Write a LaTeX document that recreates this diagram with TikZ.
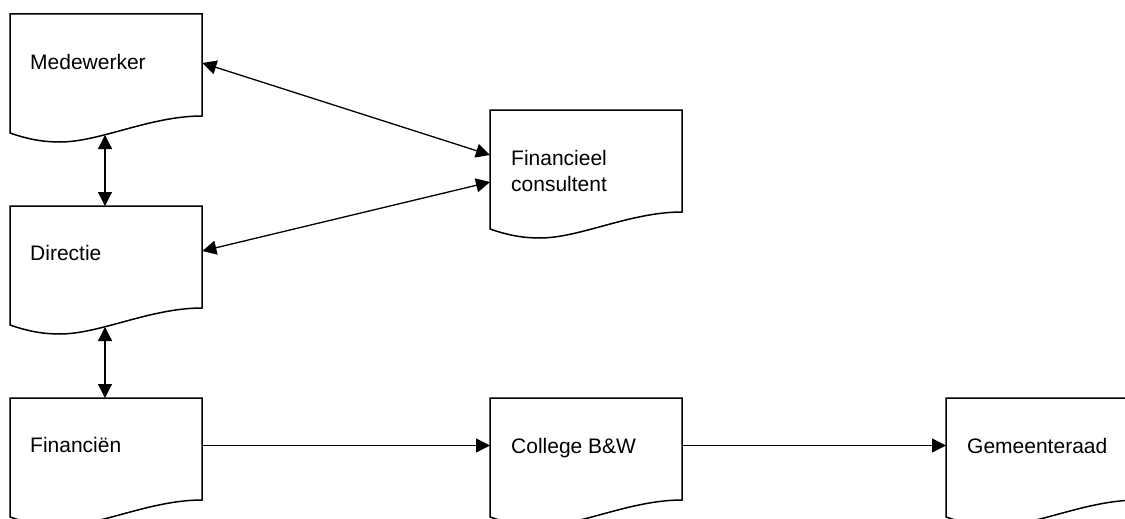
\documentclass[tikz,border=0pt]{standalone}
\usepackage{fontspec}
\setmainfont{Liberation Sans}
\usetikzlibrary{arrows.meta,calc}
\tikzset{
  docbox/.style={rectangle, minimum width=192pt, minimum height=119pt, inner sep=0pt, anchor=north west},
  doclabel/.style={anchor=base west, inner sep=0pt, font=\fontsize{21}{26}\selectfont},
  docline/.style={line width=1.5pt, line join=miter},
  conn/.style={line width=1.3pt, -{Triangle[length=14pt,width=14pt]}},
  biconn/.style={line width=1.3pt, {Triangle[length=14pt,width=14pt]}-{Triangle[length=14pt,width=14pt]}}
}
\newcommand{\docshape}[1]{%
  \begin{scope}[shift={(#1.north west)}]
    \draw[docline] (0,0) -- (192,0) -- (192,-102)
      .. controls (140,-102) and (90,-128) .. (50,-128)
      .. controls (35,-128) and (20,-126) .. (0,-119) -- cycle;
  \end{scope}}
\begin{document}
\begin{tikzpicture}[x=1pt,y=1pt]
\useasboundingbox (0,0) rectangle (1125,-519);
\node[docbox] (med) at (10,-14) {};
\node[docbox] (dir) at (10,-206) {};
\node[docbox] (fin) at (10,-398) {};
\node[docbox] (con) at (490,-110) {};
\node[docbox] (col) at (490,-398) {};
\node[docbox] (gem) at (946,-398) {};
\docshape{med}\docshape{dir}\docshape{fin}\docshape{con}\docshape{col}\docshape{gem}
\node[doclabel] (tmed) at ($(med.north west)+(20,-55.5)$) {Medewerker};
\node[doclabel] (tdir) at ($(dir.north west)+(20,-54.5)$) {Directie};
\node[doclabel] (tfin) at ($(fin.north west)+(20,-54.5)$) {Financiën};
\node[doclabel] (tcol) at ($(col.north west)+(21,-55.5)$) {College B\&W};
\node[doclabel] (tgem) at ($(gem.north west)+(21,-55.5)$) {Gemeenteraad};
\node[doclabel, anchor=west, align=left] (tcon) at ($(con.north west)+(21,-60.5)$) {Financieel\\consultent};
% connector end points on the shapes
\coordinate (medB) at ($(med.north west)+(95,-121)$);
\coordinate (dirT) at ($(dir.north west)+(95,0)$);
\coordinate (dirB) at ($(dir.north west)+(95,-121)$);
\coordinate (finT) at ($(fin.north west)+(95,0)$);
\coordinate (medE) at ($(med.north east)+(0,-49)$);
\coordinate (dirE) at ($(dir.north east)+(0,-45)$);
\coordinate (conW1) at ($(con.north west)+(0,-45)$);
\coordinate (conW2) at ($(con.north west)+(0,-72)$);
\coordinate (finE) at ($(fin.north east)+(0,-47.5)$);
\coordinate (colW) at ($(col.north west)+(0,-47.5)$);
\coordinate (colE) at ($(col.north east)+(0,-47.5)$);
\coordinate (gemW) at ($(gem.north west)+(0,-47.5)$);
\draw[biconn] (medB) -- (dirT);
\draw[biconn] (dirB) -- (finT);
\draw[biconn] (medE) -- (conW1);
\draw[biconn] (dirE) -- (conW2);
\draw[conn] (finE) -- (colW);
\draw[conn] (colE) -- (gemW);
\end{tikzpicture}
\end{document}
